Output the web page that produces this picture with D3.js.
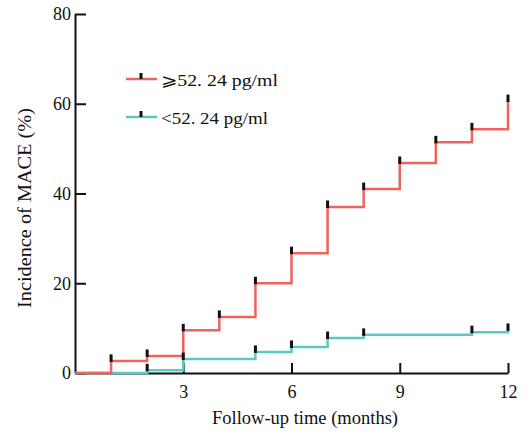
<!DOCTYPE html>
<html>
<head>
<meta charset="utf-8">
<script src="https://cdn.jsdelivr.net/npm/d3@7"></script>
<style>
html,body{margin:0;padding:0;background:#fff;}
text{font-family:"Liberation Serif","Times New Roman","DejaVu Serif",serif;fill:#111;}
</style>
</head>
<body>
<svg id="chart" width="531" height="436"></svg>
<script>
// ---- data ----
const months = [0,1,2,3,4,5,6,7,8,9,10,11,12];
const highValues = [0,2.7,3.8,9.5,12.5,20.0,26.7,37.0,41.0,46.8,51.4,54.3,60.6];
const lowValues  = [0,0,0.6,3.1,3.1,4.7,5.8,7.8,8.5,8.5,8.5,9.1,9.6];
const highCensor = [1,2,3,4,5,6,7,8,9,10,11,12];
const lowCensor  = [2,3,5,6,7,8,11,12];
const seriesNames = ["\u2A7E52. 24 pg/ml", "<52. 24 pg/ml"];
const xTicks = [3,6,9,12];
const yTicks = [0,20,40,60,80];
const xTitle = "Follow-up time (months)";
const yTitle = "Incidence of MACE (%)";

const colors = ["#f0625e", "#58cac6"];

const svg = d3.select("#chart");
const x = d3.scaleLinear().domain([0,12]).range([75,508]);
const y = d3.scaleLinear().domain([0,80]).range([373,14]);

// axes
const xAxis = d3.axisBottom(x).tickValues(xTicks).tickSizeInner(-10).tickSizeOuter(0).tickPadding(12);
const gx = svg.append("g").attr("transform","translate(0,373)").call(xAxis);
gx.select(".domain").attr("stroke","#111").attr("stroke-width",2);
gx.selectAll(".tick line").attr("stroke","#111").attr("stroke-width",2);
gx.selectAll(".tick text").attr("font-size",18).attr("font-family","Liberation Serif").attr("fill","#111");

const yAxis = d3.axisLeft(y).tickValues(yTicks).tickSizeInner(-11).tickSizeOuter(0).tickPadding(5);
const gy = svg.append("g").attr("transform","translate(75,0)").call(yAxis);
gy.select(".domain").attr("stroke","#111").attr("stroke-width",2);
gy.selectAll(".tick line").attr("stroke","#111").attr("stroke-width",2);
gy.selectAll(".tick text").attr("font-size",18).attr("font-family","Liberation Serif").attr("fill","#111")
  .attr("x",-4).attr("dy","0.33em");

// titles
svg.append("text").attr("x",305).attr("y",424).attr("text-anchor","middle")
  .attr("font-size",18.5).attr("textLength",186).attr("lengthAdjust","spacingAndGlyphs").text(xTitle);
svg.append("text").attr("transform","translate(31,208) rotate(-90)").attr("text-anchor","middle")
  .attr("font-size",19).attr("textLength",200).attr("lengthAdjust","spacingAndGlyphs").text(yTitle);

// curves
const line = d3.line().x(d=>x(d[0])).y(d=>y(d[1])).curve(d3.curveStepAfter);
const series = [
  {vals: highValues, censor: highCensor, color: colors[0]},
  {vals: lowValues,  censor: lowCensor,  color: colors[1]}
];
series.slice().reverse().forEach(s=>{
  const pts = months.map((m,i)=>[m,s.vals[i]]);
  svg.append("path").datum(pts).attr("d",line).attr("fill","none")
    .attr("stroke",s.color).attr("stroke-width",2.5);
});
series.forEach(s=>{
  svg.append("g").selectAll("rect").data(s.censor).join("rect")
    .attr("x",d=>x(d)-1.5).attr("y",d=>y(s.vals[months.indexOf(d)])-6.5)
    .attr("width",3).attr("height",7.5).attr("fill","#111");
});

// legend
const legendY = [79,117];
const legendTextW = [117,107];
seriesNames.forEach((name,i)=>{
  const g = svg.append("g");
  g.append("line").attr("x1",126).attr("x2",157).attr("y1",legendY[i]).attr("y2",legendY[i])
    .attr("stroke",colors[i]).attr("stroke-width",2.5);
  g.append("rect").attr("x",139.5).attr("y",legendY[i]-6).attr("width",3).attr("height",6).attr("fill","#111");
  g.append("text").attr("x",161).attr("y",legendY[i]+7).attr("font-size",17)
    .attr("textLength",legendTextW[i]).attr("lengthAdjust","spacingAndGlyphs").text(name);
});
</script>
</body>
</html>
